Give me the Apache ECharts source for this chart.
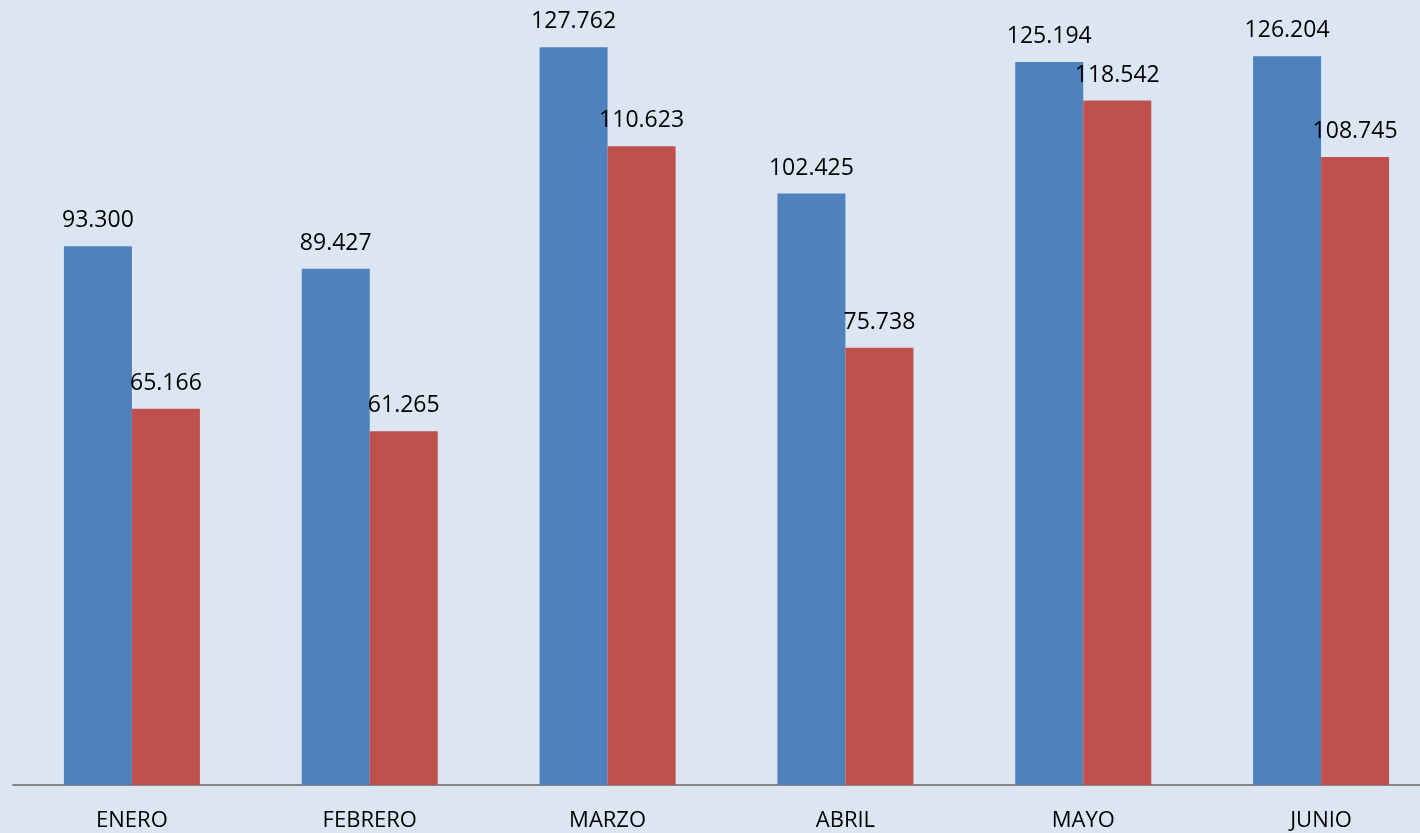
<!DOCTYPE html>
<html>
<head>
<meta charset="utf-8">
<script src="https://cdn.jsdelivr.net/npm/echarts@6/dist/echarts.min.js"></script>
<style>
  html, body { margin: 0; padding: 0; background: #dce6f2; overflow: hidden; }
  #main { width: 1440px; height: 833px; }
</style>
</head>
<body>
<div id="main"></div>
<script>
'use strict';
const months = ['ENERO', 'FEBRERO', 'MARZO', 'ABRIL', 'MAYO', 'JUNIO'];
const serieAzul = [93300, 89427, 127762, 102425, 125194, 126204];
const serieRoja = [65166, 61265, 110623, 75738, 118542, 108745];

// separador de miles con punto
function fmt(v) {
  return String(v).replace(/\B(?=(\d{3})+(?!\d))/g, '.');
}

const labelStyle = {
  show: true,
  position: 'top',
  distance: 14,
  color: '#000',
  fontFamily: 'Open Sans',
  fontSize: 23,
  formatter: p => fmt(p.value)
};

// el grafico sigue un poco mas alla del borde derecho
echarts.init(document.getElementById('main')).setOption({
  backgroundColor: '#dce6f2',
  animation: false,
  grid: { left: 13, top: 0, right: 0, bottom: 48, containLabel: false },
  xAxis: {
    type: 'category',
    data: months,
    axisLine: { lineStyle: { color: '#868686', width: 2 } },
    axisTick: { show: false },
    axisLabel: { color: '#000', fontFamily: 'Open Sans', fontSize: 22, margin: 25 }
  },
  yAxis: {
    type: 'value',
    min: 0,
    max: 135950,
    show: false,
    splitLine: { show: false }
  },
  series: [{
    type: 'bar',
    data: serieAzul,
    barWidth: 68,
    barGap: '0%',
    itemStyle: { color: '#4f81bd' },
    label: labelStyle
  }, {
    type: 'bar',
    data: serieRoja,
    barWidth: 68,
    barGap: '0%',
    itemStyle: { color: '#c0504d' },
    label: labelStyle
  }]
});
</script>
</body>
</html>
